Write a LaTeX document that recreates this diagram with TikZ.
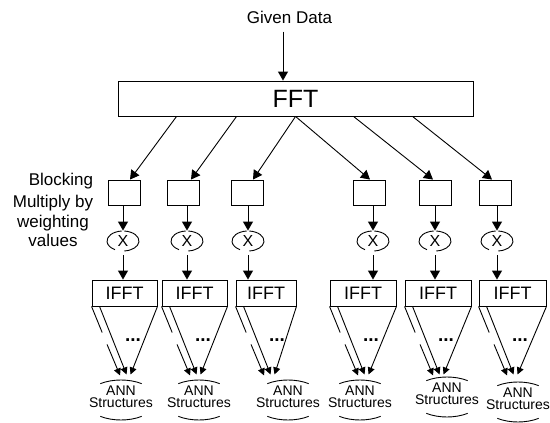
\documentclass[tikz,border=0pt]{standalone}
\usepackage{fontspec}
\setmainfont{Liberation Sans}
\usetikzlibrary{arrows.meta,calc}
\begin{document}
\begin{tikzpicture}[x=1pt,y=-1pt,line width=0.9pt,
  arr/.style={-{Triangle[length=9pt,width=10pt]}},
  sarr/.style={-{Triangle[length=7pt,width=7pt]}},
  blk/.style={draw,minimum width=32pt,minimum height=25pt,inner sep=0pt},
  ifft/.style={draw,minimum height=26pt,inner sep=0pt,font=\fontsize{18}{20}\selectfont},
  lab/.style={font=\fontsize{17}{20}\selectfont,inner sep=0pt},
  mulnode/.style={minimum width=32pt,minimum height=20pt,inner sep=0pt,font=\fontsize{16}{18}\selectfont},
  ann/.style={align=center,inner sep=0pt,font=\fontsize{14}{12.5}\selectfont},
  dotsnode/.style={font=\fontsize{19}{19}\selectfont\bfseries,inner sep=0pt,anchor=base}]
\useasboundingbox (0,0) rectangle (550,423);

\node[lab] (given) at (289.5,17) {Given Data};
\node[draw,minimum width=355pt,minimum height=35pt,inner sep=0pt,font=\fontsize{25}{28}\selectfont] (fft) at (295.5,98.5) {FFT};
\draw[arr] ($(given.south)+(-6.5,8)$) -- ($(fft.north)+(-12.5,0)$);

\node[lab,anchor=base] (blocking) at (61,185) {Blocking};
\node[lab,align=center,font=\fontsize{17}{19.5}\selectfont] (mulw) at (53,221) {Multiply by\\weighting\\values};

\foreach \i/\bx/\tp/\lx/\xl/\xr/\ax/\ay/\fx in {
  1/124/130/123/92/157/121/397/177,
  2/183/191/187/162/227/199/397/237,
  3/247.5/253/248/236/296/288/397/296,
  4/369/370/373/330/396/360/397/296,
  5/435/433/435/405/471/447/394/354,
  6/495/492/497/479/546/518/399/413}{
  \pgfmathsetmacro\w{\xr-\xl}
  \pgfmathsetmacro\cx{(\xr+\xl)/2}
  \node[blk] (b\i) at (\bx,192.5) {};
  \node[mulnode] (m\i) at (\lx,241) {X};
  \node[ifft,minimum width=\w pt] (i\i) at (\cx,293) {IFFT};
  \node[ann] (a\i) at (\ax,\ay) {ANN\\Structures};
  \node[dotsnode] (d\i) at (\xl+41,341) {...};
  % FFT to blocks
  \draw[arr] ($(fft.south west)+({\fx-118},0)$) -- ($(b\i.north)+({\tp-\bx},0)$);
  % block to multiplier
  \draw[arr] (b\i.south -| m\i.center) -- (m\i.north);
  % multiplier circle (open arcs)
  \draw ($(m\i.center)+(265:16 and 10)$) arc[start angle=265,end angle=120,x radius=16,y radius=10];
  \draw ($(m\i.center)+(-85:16 and 10)$) arc[start angle=-85,end angle=85,x radius=16,y radius=10];
  % multiplier to IFFT
  \draw[arr] ($(m\i.south)+(0,4)$) -- (i\i.north -| m\i.center);
  % IFFT fan to ANN
  \draw (i\i.south west) -- ++(10.6,26);
  \draw[sarr] ($(i\i.south west)+(15.5,38)$) -- ++(13,31);
  \draw[sarr] ($(i\i.south west)+(8,0)$) -- ($(i\i.south west)+(35,68)$);
  \draw[sarr] (i\i.south east) -- ($(i\i.south west)+(39,68)$);
  % ANN ellipse (top and bottom arcs)
  \draw ($(a\i.center)+(0,3)+(235:36 and 20)$) arc[start angle=235,end angle=305,x radius=36,y radius=20];
  \draw ($(a\i.center)+(0,3)+(55:36 and 20)$) arc[start angle=55,end angle=125,x radius=36,y radius=20];
}
\end{tikzpicture}
\end{document}
